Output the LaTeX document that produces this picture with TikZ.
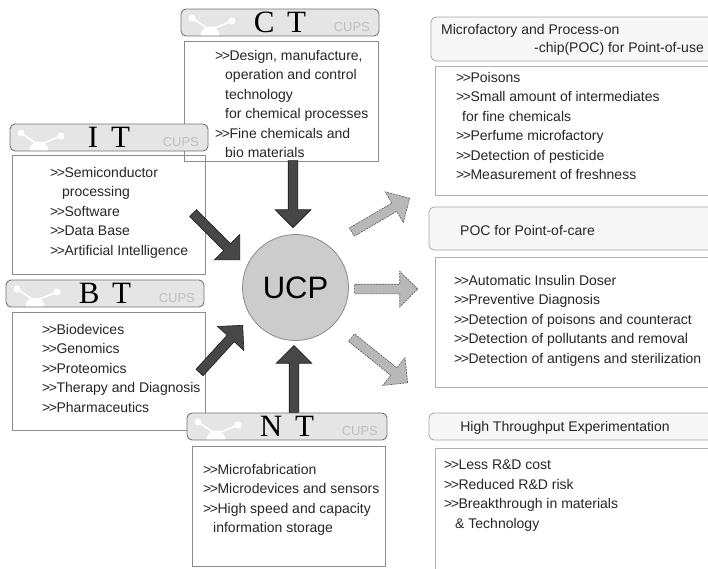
\documentclass[tikz,border=0pt]{standalone}
\usepackage{fontspec}
\setmainfont{Liberation Sans}
\newfontfamily\hdrfont{Liberation Serif}
\usetikzlibrary{shapes.arrows, calc, positioning}

% the ">>" in front of each item
\newcommand{\bul}{>\kern-1.5pt>\kern-0.5pt}

\begin{document}
\begin{tikzpicture}[x=1pt, y=-1pt,
  hdr/.style={draw=black!55, fill=black!10, rounded corners=5pt, line width=0.9pt,
    inner sep=0pt, minimum width=198pt, minimum height=27pt,
    font=\hdrfont\fontsize{31}{31}\selectfont,
    path picture={
      \coordinate (nw) at (path picture bounding box.north west);
      \draw[white, line width=1.6pt, rounded corners=0pt]
        ($(nw)+(11,9)$) -- ($(nw)+(29,21)$) -- ($(nw)+(51,12)$);
      \fill[white] ($(nw)+(11,9)$) circle (3.5);
      \fill[white] ($(nw)+(51,12)$) circle (3.5);
      \fill[white] ($(nw)+(29,27)$) circle (9.5);
    }},
  body/.style={draw=black!45, line width=0.8pt, inner sep=0pt},
  rhdr/.style={draw=black!35, fill=black!3, rounded corners=5pt, line width=0.8pt, inner sep=0pt},
  rbody/.style={draw=black!30, line width=0.8pt, inner sep=0pt},
  txt/.style={anchor=north west, align=left, inner sep=0pt,
    font=\fontsize{14}{19.5}\selectfont, text=black!85},
  cups/.style={anchor=east, text=black!25, font=\fontsize{13}{13}\selectfont},
  bigarr/.style={single arrow, single arrow head extend=13pt, inner xsep=0pt,
    inner ysep=4.5pt, minimum width=0pt, sloped, allow upside down, anchor=tip},
  inarr/.style={bigarr, fill=black!72, draw=black!90, line width=0.6pt},
  outarr/.style={bigarr, fill=black!28, draw=black!65, dash pattern=on 2pt off 1pt, line width=0.6pt}]

  \clip (0,0) rectangle (708,568);
  \fill[white] (0,0) rectangle (708,568);

  % centre
  \node[circle, draw=black!45, fill=black!20, line width=0.8pt, minimum size=106pt,
    inner sep=0pt, font=\fontsize{31}{31}\selectfont] (ucp) at (295.5,287.5) {UCP};

  % CT
  \node[hdr] (cthdr) at (280,22.5) {C\hspace{5pt} T};
  \node[cups] (ctcups) at ([shift={(-6,5)}]cthdr.east) {CUPS};
  \node[body, minimum width=194pt, minimum height=120pt] (ctbody) at (281,101) {};
  \node[txt] (cttxt) at (215,50) {\bul Design, manufacture,\\
    \hspace*{10pt}operation and control\\
    \hspace*{10pt}technology\\
    \hspace*{10pt}for chemical processes\\
    \bul Fine chemicals and\\
    \hspace*{10pt}bio materials};

  % IT
  \node[hdr] (ithdr) at (109,137.5) {I\hspace{5pt} T};
  \node[cups] (itcups) at ([shift={(-6,5)}]ithdr.east) {CUPS};
  \node[body, minimum width=193pt, minimum height=119pt] (itbody) at (108.5,214.5) {};
  \node[txt] (ittxt) at (50,167) {\bul Semiconductor\\
    \hspace*{12pt}processing\\
    \bul Software\\
    \bul Data Base\\
    \bul Artificial Intelligence};

  % BT
  \node[hdr] (bthdr) at (105,293.5) {B\hspace{5pt} T};
  \node[cups] (btcups) at ([shift={(-6,5)}]bthdr.east) {CUPS};
  \node[body, minimum width=193pt, minimum height=118pt] (btbody) at (108.5,371) {};
  \node[txt] (bttxt) at (42,324) {\bul Biodevices\\
    \bul Genomics\\
    \bul Proteomics\\
    \bul Therapy and Diagnosis\\
    \bul Pharmaceutics};

  % NT
  \node[hdr, minimum width=200pt] (nthdr) at (287,426.5) {N\hspace{5pt} T};
  \node[cups] (ntcups) at ([shift={(-6,5)}]nthdr.east) {CUPS};
  \node[body, minimum width=193pt, minimum height=120pt] (ntbody) at (288.5,506) {};
  \node[txt] (nttxt) at (203,464) {\bul Microfabrication\\
    \bul Microdevices and sensors\\
    \bul High speed and capacity\\
    \hspace*{10pt}information storage};

  % point-of-use
  \node[rhdr, minimum width=286pt, minimum height=44pt] (usehdr) at (574,39) {};
  \node[txt, font=\fontsize{14}{18}\selectfont] (usetitle) at (441,24) {Microfactory and Process-on\\
    \hspace*{93pt}-chip(POC) for Point-of-use};
  \node[rbody, minimum width=280pt, minimum height=129pt] (usebody) at (575,130.5) {};
  \node[txt] (usetxt) at (456,72) {\bul Poisons\\
    \bul Small amount of intermediates\\
    \hspace*{6pt}for fine chemicals\\
    \bul Perfume microfactory\\
    \bul Detection of pesticide\\
    \bul Measurement of freshness};

  % point-of-care
  \node[rhdr, minimum width=286pt, minimum height=43pt] (carehdr) at (572,228.5) {};
  \node[txt] (caretitle) at (460,225) {POC for Point-of-care};
  \node[rbody, minimum width=280pt, minimum height=130pt] (carebody) at (575,322) {};
  \node[txt] (caretxt) at (454,275) {\bul Automatic Insulin Doser\\
    \bul Preventive Diagnosis\\
    \bul Detection of poisons and counteract\\
    \bul Detection of pollutants and removal\\
    \bul Detection of antigens and sterilization};

  % high throughput
  \node[rhdr, minimum width=286pt, minimum height=27pt] (htehdr) at (572,426.5) {};
  \node[txt, anchor=north] (htetitle) at (565,421) {High Throughput Experimentation};
  \node[rbody, minimum width=280pt, minimum height=132pt] (htebody) at (575,514) {};
  \node[txt] (htetxt) at (444,460) {\bul Less R\&D cost\\
    \bul Reduced R\&D risk\\
    \bul Breakthrough in materials\\
    \hspace*{11pt}\& Technology};

  % arrows in
  \coordinate (cts) at (293,161);  \coordinate (ctt) at (293,228);
  \coordinate (its) at (193,213);  \coordinate (itt) at (240,260);
  \coordinate (bts) at (200,372);  \coordinate (btt) at (243,325);
  \coordinate (nts) at (294,412);  \coordinate (ntt) at (294,345);
  \path (cts) -- node[inarr, pos=1, minimum height=67pt] (ctarr) {} (ctt);
  \path (its) -- node[inarr, pos=1, minimum height=66pt] (itarr) {} (itt);
  \path (bts) -- node[inarr, pos=1, minimum height=64pt] (btarr) {} (btt);
  \path (nts) -- node[inarr, pos=1, minimum height=67pt] (ntarr) {} (ntt);

  % arrows out
  \coordinate (uses) at (352,232); \coordinate (uset) at (410,198);
  \coordinate (cares) at (355,289); \coordinate (caret) at (418,289);
  \coordinate (htes) at (352,338); \coordinate (htet) at (408,383);
  \path (uses) -- node[outarr, pos=1, minimum height=67pt] (usearr) {} (uset);
  \path (cares) -- node[outarr, pos=1, minimum height=63pt] (carearr) {} (caret);
  \path (htes) -- node[outarr, pos=1, minimum height=72pt] (htearr) {} (htet);
\end{tikzpicture}
\end{document}
